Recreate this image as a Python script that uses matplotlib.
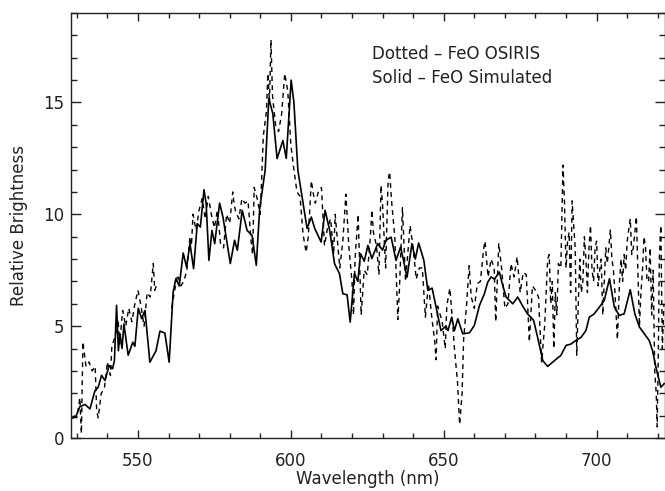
import numpy as np
import matplotlib
matplotlib.use("Agg")
import matplotlib.pyplot as plt
from matplotlib.ticker import MultipleLocator

# Simulated FeO spectrum (solid)
sim_wl = [528.0, 529.6, 531, 532.7, 534.3, 535.9, 537, 538.1, 539.2, 540.6, 541.7, 542.3, 543, 543.6,
          544.1, 544.8, 545.4, 546.8, 548.3, 549, 550.1, 551.2, 552.3, 553.9, 555.9, 557.2, 558.8,
          560.2, 561.5, 562.4, 563.5, 564.8, 565.9, 567, 568.2, 569.4, 570.4, 571.6, 572.3, 573.2,
          574.2, 575.1, 576.7, 577.8, 580.2, 581.6, 582.5, 584.1, 585.7, 587.3, 588.7, 589.8, 591.6,
          592.8, 594.1, 595.5, 597.4, 598.5, 600.1, 601, 602.3, 603.9, 605.3, 606.7, 607.8, 609.9,
          611.2, 612.7, 614.3, 615.9, 617, 618.4, 619.4, 620.8, 621.9, 622.8, 624, 625.2, 626.5,
          628.4, 630, 631.1, 632.8, 634.4, 635.9, 638, 639.6, 640.7, 641.8, 643.5, 644.8, 646.2,
          647.5, 649.1, 650.7, 651.4, 652.6, 653.5, 654.6, 656.2, 658.4, 660, 661.7, 663.3, 664.4,
          665.5, 666.6, 668.2, 669, 670.4, 672.6, 674.2, 675.8, 677.4, 679.4, 680.7, 682.4, 684,
          686.2, 688.3, 690, 691.6, 693.2, 694.9, 696.5, 697.6, 699.2, 700.9, 702.5, 704.2, 705.8,
          707.4, 709, 711, 712.5, 714, 715.6, 717.2, 718.3, 719.4, 721, 722.1]
sim_val = [0.87, 0.93, 1.4, 1.5, 1.3, 2.1, 2.27, 2.8, 2.57, 3.24, 3.1, 3.46, 5.93, 3.9,
           4.67, 4.0, 5.1, 3.7, 4.28, 4.1, 5.8, 5.34, 5.7, 3.39, 3.9, 4.78, 4.69,
           3.39, 6.52, 7.13, 6.8, 8.27, 7.64, 8.7, 7.57, 9.58, 9.43, 11.1, 10.48, 7.94,
           9.28, 8.69, 10.5, 9.88, 7.8, 8.84, 8.39, 10.18, 9.28, 9.06, 7.72, 10.25, 11.97,
           15.18, 14.5, 12.49, 13.3, 12.5, 16.0, 15.0, 11.97, 10.6, 9.37, 9.88, 9.37, 8.76,
           10.18, 9.28, 7.79, 7.35, 6.45, 6.4, 5.18, 7.35, 7.0, 8.24, 7.9, 8.61, 8.02,
           8.69, 8.4, 8.84, 8.98, 7.94, 8.54, 7.19, 8.69, 8.0, 8.72, 7.94, 6.6, 6.7,
           5.85, 4.8, 5.0, 4.8, 5.4, 4.8, 5.33, 4.66, 4.7, 5.03, 5.93, 6.45, 6.97,
           7.2, 7.1, 7.42, 6.97, 6.3, 6.0, 6.3, 5.9, 5.55, 5.26, 4.5, 3.46, 3.2,
           3.46, 3.69, 4.14, 4.2, 4.36, 4.5, 4.8, 5.4, 5.55, 5.85, 6.15, 7.12, 5.85,
           5.48, 5.55, 6.63, 5.55, 4.96, 4.66, 4.36, 3.9, 3.16, 2.27, 2.43]

# OSIRIS FeO spectrum (dotted); NaN marks the data gap
osi_wl = [529, 530, 531, 531.5, 532, 533, 534, 535, 536, 536.5, 537, 538, 539, 540, 541, 541.5,
          542, 543, 543.5, 544, 545, 546, 547, 548, 549, 550, 551, 552, 553, 554, 555, 555.5, 556,
          558.5,
          561, 561.5, 562, 563, 564, 565, 566, 567, 567.5, 568, 569, 570, 571, 572, 573, 574, 575,
          576, 577, 578, 579, 580, 581, 581.5, 582, 583, 584, 585, 586, 587, 587.5, 588, 589, 590,
          591, 592, 592.5, 593, 593.5, 594, 595, 596, 597, 598, 599, 600, 601, 602, 603, 604, 605,
          605.7, 606.7, 607.5, 608, 609, 610, 611, 612, 613, 614, 614.5, 615, 616, 617, 618, 619,
          620, 620.5, 621, 622, 623, 624, 625, 626, 626.5, 627, 628, 628.8, 629.5, 630, 631, 631.8,
          632.3, 633, 634, 635, 635.5, 636.5, 637.5, 639, 640, 641, 642, 643, 644, 645, 646, 647,
          647.5, 648, 649.5, 650.5, 651, 652, 653, 653.5, 654.5, 655.2, 656, 656.5, 657.5, 658.3,
          659, 660, 661, 662, 663, 663.5, 664.5, 665.5, 666.5, 667, 668, 669, 670, 671, 672, 673,
          674, 675, 676, 677, 678, 679, 680, 681, 682, 683,
          684, 684.5, 685, 685.5, 686, 686.5, 687, 687.5, 688.3, 689, 689.5, 690, 690.5, 691, 691.5,
          692, 692.5, 693, 693.5, 694, 694.5, 695, 695.5, 696, 696.5, 697, 697.5, 698, 698.5, 699,
          699.5, 700, 700.5, 701, 701.5, 702, 702.5, 703, 703.5, 704.5, 705, 705.5, 706, 706.8,
          707.5, 708, 708.5, 709, 709.5, 710, 711, 711.5, 712, 713, 713.5, 714, 714.5, 715, 715.5,
          716, 716.5, 717, 717.5, 718, 718.5, 719, 719.5, 719.8, 720.2, 720.5, 721, 721.5, 722]
osi_val = [1.0, 0.9, 1.8, 0.2, 4.3, 3.2, 3.4, 3.0, 3.2, 1.2, 0.9, 2.0, 2.2, 3.4, 2.8, 4.2,
           4.3, 4.8, 5.3, 4.2, 5.7, 5.0, 5.8, 5.2, 6.0, 6.6, 5.9, 5.0, 6.5, 6.3, 7.8, 6.6, 6.8,
           np.nan,
           5.8, 6.2, 6.6, 7.3, 6.8, 7.0, 7.5, 9.0, 8.6, 10.0, 9.3, 10.2, 10.7, 9.8, 10.8, 10.0, 9.4,
           10.2, 8.7, 8.5, 10.0, 9.6, 11.0, 10.4, 10.1, 9.8, 10.7, 10.5, 10.6, 8.8, 8.2, 11.2, 10.7, 10.0,
           13.5, 14.6, 16.3, 15.0, 17.8, 15.3, 14.0, 13.7, 14.5, 16.3, 15.5, 13.1, 12.0, 11.0, 10.8, 9.1, 8.3,
           9.0, 11.5, 10.8, 10.5, 11.0, 11.2, 8.6, 9.4, 9.8, 8.2, 10.0, 9.2, 7.6, 8.8, 10.9, 8.5,
           7.0, 5.5, 8.0, 10.0, 5.5, 7.5, 7.3, 9.0, 10.2, 9.2, 8.6, 7.3, 11.3, 10.4, 7.6, 11.5,
           11.9, 10.5, 9.0, 5.3, 6.6, 10.3, 7.0, 9.5, 8.5, 7.1, 7.6, 7.6, 5.4, 6.9, 5.5, 4.4,
           3.5, 5.9, 5.2, 4.0, 5.9, 6.7, 5.0, 4.0, 2.5, 0.6, 2.0, 4.4, 6.0, 7.7,
           6.3, 5.8, 6.9, 7.0, 8.4, 8.8, 7.2, 8.0, 7.6, 5.2, 8.7, 7.5, 5.8, 6.0, 7.8, 7.2,
           8.1, 6.5, 7.4, 7.3, 4.3, 6.8, 6.6, 6.3, 3.4, 5.0,
           8.0, 8.2, 6.0, 7.0, 4.0, 6.5, 5.5, 7.8, 7.6, 12.2, 10.5, 7.6, 8.8, 9.2, 6.5,
           10.6, 9.5, 8.5, 3.7, 6.0, 8.0, 6.5, 7.0, 9.0, 8.0, 6.5, 8.5, 9.5, 7.5, 7.0,
           8.5, 8.8, 6.8, 7.5, 8.0, 5.5, 7.0, 8.5, 7.8, 9.3, 8.0, 7.5, 6.5, 4.4,
           7.0, 8.0, 7.0, 8.2, 7.5, 8.8, 9.8, 8.2, 8.5, 9.9, 7.5, 5.0, 6.5, 7.5, 9.0,
           8.5, 7.0, 7.0, 8.5, 5.5, 7.5, 3.0, 2.0, 0.5, 4.0, 8.0, 9.5, 4.0, 6.0]

x_ticks = [550, 600, 650, 700]
y_ticks = [0, 5, 10, 15]

W, H = 665, 491
fig = plt.figure(figsize=(W / 100, H / 100), dpi=100)
ax = fig.add_axes([71.3 / W, (H - 438) / H, (664.5 - 71.3) / W, (438 - 13) / H])

ax.plot(osi_wl, osi_val, color="black", lw=1.0, dashes=(3.5, 3.0))
ax.plot(sim_wl, sim_val, color="black", lw=1.2)

ax.set_xlim(528.2, 722.2)
ax.set_ylim(0, 19)
ax.set_xticks(x_ticks)
ax.set_yticks(y_ticks)
ax.xaxis.set_minor_locator(MultipleLocator(10))
ax.yaxis.set_minor_locator(MultipleLocator(1))
ax.tick_params(which="both", direction="in", top=True, right=True, width=1.0,
               labelsize=12, colors="#222222")
ax.tick_params(axis="x", which="major", length=6, pad=10)
ax.tick_params(axis="x", which="minor", length=3.5)
ax.tick_params(axis="y", which="major", length=7.5, pad=5)
ax.tick_params(axis="y", which="minor", length=4)
for s in ax.spines.values():
    s.set_linewidth(1.0)
    s.set_color("#222222")

ax.set_xlabel("Wavelength (nm)", fontsize=12, labelpad=0, color="#222222")
ax.set_ylabel("Relative Brightness", fontsize=12, labelpad=11, color="#222222")

fig.text(372 / W, 1 - 54 / H, "Dotted \u2013 FeO OSIRIS", fontsize=12, va="center", ha="left",
         color="#222222")
fig.text(372 / W, 1 - 78 / H, "Solid \u2013 FeO Simulated", fontsize=12, va="center", ha="left",
         color="#222222")

fig.savefig("out.png", dpi=100)
